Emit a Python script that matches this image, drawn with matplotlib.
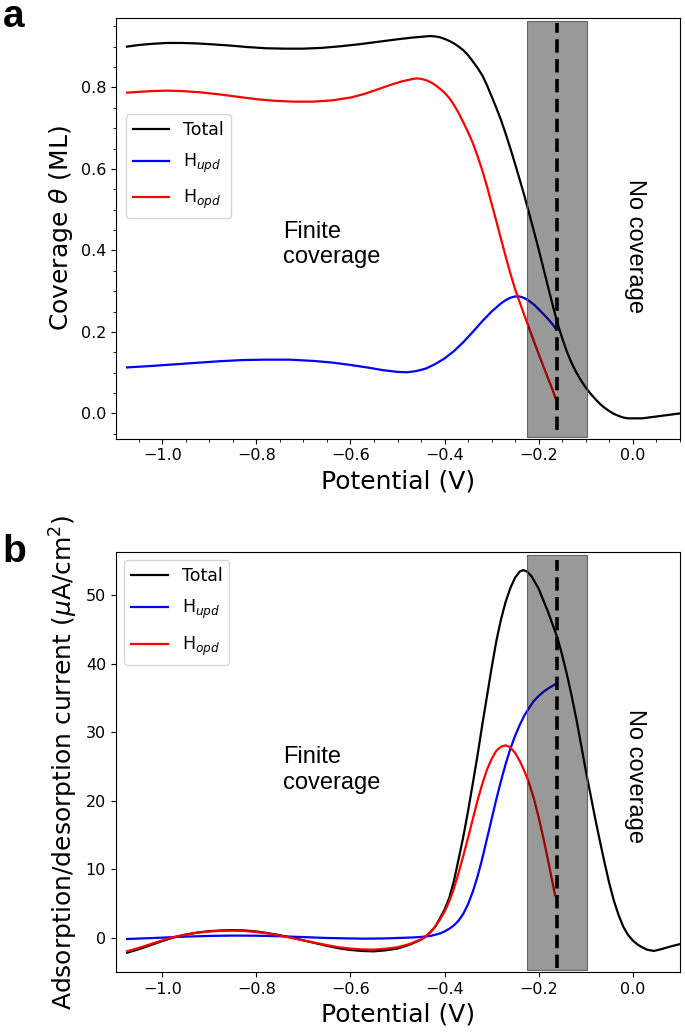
import matplotlib
matplotlib.use("Agg")
import matplotlib.pyplot as plt
from matplotlib.ticker import MultipleLocator

# ---------------- Panel a: coverage ----------------
a_total_x = [-1.075, -1.05, -1.02, -0.99, -0.96, -0.93, -0.90, -0.86, -0.82, -0.78, -0.74, -0.70,
             -0.66, -0.62, -0.58, -0.54, -0.50, -0.47, -0.45, -0.43, -0.42, -0.41, -0.40, -0.39,
             -0.38, -0.37, -0.36, -0.35, -0.34, -0.33, -0.32, -0.31, -0.30, -0.29, -0.28, -0.27,
             -0.26, -0.25, -0.24, -0.23, -0.22, -0.21, -0.20, -0.19, -0.18, -0.17, -0.16, -0.15,
             -0.14, -0.13, -0.12, -0.11, -0.10, -0.09, -0.08, -0.07, -0.06, -0.05, -0.04, -0.03,
             -0.02, -0.01, 0.00, 0.02, 0.04, 0.06, 0.08, 0.10]
a_total_y = [0.900, 0.904, 0.907, 0.909, 0.909, 0.908, 0.906, 0.903, 0.899, 0.896, 0.895, 0.895,
             0.897, 0.901, 0.906, 0.912, 0.918, 0.922, 0.924, 0.926, 0.925, 0.923, 0.919, 0.914,
             0.908, 0.900, 0.891, 0.879, 0.864, 0.848, 0.830, 0.806, 0.778, 0.750, 0.720, 0.686,
             0.650, 0.612, 0.573, 0.533, 0.490, 0.447, 0.403, 0.357, 0.311, 0.265, 0.222, 0.185,
             0.152, 0.124, 0.101, 0.081, 0.064, 0.049, 0.036, 0.024, 0.014, 0.006, -0.001, -0.006,
             -0.010, -0.012, -0.012, -0.012, -0.009, -0.006, -0.003, 0.000]

a_opd_x = [-1.075, -1.05, -1.02, -0.99, -0.96, -0.92, -0.88, -0.84, -0.80, -0.76, -0.72, -0.68,
           -0.64, -0.60, -0.57, -0.54, -0.51, -0.49, -0.47, -0.46, -0.45, -0.44, -0.43, -0.42,
           -0.41, -0.40, -0.39, -0.38, -0.37, -0.36, -0.35, -0.34, -0.33, -0.32, -0.31, -0.30,
           -0.29, -0.28, -0.27, -0.26, -0.25, -0.24, -0.23, -0.22, -0.21, -0.20, -0.19, -0.18,
           -0.17, -0.163]
a_opd_y = [0.787, 0.789, 0.791, 0.792, 0.791, 0.788, 0.783, 0.777, 0.771, 0.767, 0.765, 0.765,
           0.768, 0.775, 0.784, 0.796, 0.808, 0.815, 0.820, 0.822, 0.821, 0.818, 0.813, 0.806,
           0.797, 0.787, 0.774, 0.757, 0.737, 0.714, 0.690, 0.664, 0.632, 0.597, 0.558, 0.515,
           0.472, 0.428, 0.385, 0.343, 0.305, 0.272, 0.240, 0.208, 0.177, 0.146, 0.116, 0.086,
           0.057, 0.034]

a_upd_x = [-1.075, -1.03, -0.98, -0.93, -0.88, -0.83, -0.78, -0.73, -0.68, -0.64, -0.60, -0.56,
           -0.53, -0.50, -0.48, -0.46, -0.44, -0.42, -0.40, -0.38, -0.36, -0.34, -0.32, -0.30,
           -0.28, -0.27, -0.26, -0.25, -0.24, -0.23, -0.22, -0.21, -0.20, -0.19, -0.18, -0.17,
           -0.163]
a_upd_y = [0.113, 0.116, 0.120, 0.124, 0.128, 0.131, 0.132, 0.132, 0.129, 0.125, 0.119, 0.112,
           0.106, 0.102, 0.101, 0.104, 0.110, 0.121, 0.135, 0.153, 0.175, 0.200, 0.226, 0.250,
           0.270, 0.278, 0.284, 0.287, 0.287, 0.283, 0.276, 0.267, 0.256, 0.244, 0.232, 0.218,
           0.207]

# ---------------- Panel b: current ----------------
b_total_x = [-1.075, -1.05, -1.025, -1.0, -0.975, -0.95, -0.925, -0.90, -0.875, -0.85, -0.825, -0.80,
             -0.775, -0.75, -0.725, -0.70, -0.675, -0.65, -0.625, -0.60, -0.575, -0.55, -0.525, -0.50,
             -0.475, -0.45, -0.44, -0.43, -0.42, -0.41, -0.40, -0.39, -0.38, -0.37, -0.36, -0.35,
             -0.34, -0.33, -0.32, -0.31, -0.30, -0.29, -0.28, -0.27, -0.26, -0.25, -0.24, -0.233,
             -0.225, -0.215, -0.205, -0.20, -0.19, -0.18, -0.17, -0.16, -0.15, -0.14, -0.13, -0.12,
             -0.11, -0.10, -0.09, -0.08, -0.07, -0.06, -0.05, -0.04, -0.03, -0.02, -0.01, 0.00,
             0.01, 0.02, 0.03, 0.045, 0.06, 0.08, 0.10]
b_total_y = [-2.2, -1.7, -1.1, -0.5, 0.05, 0.45, 0.75, 0.95, 1.05, 1.1, 1.05, 0.9,
             0.65, 0.35, 0.0, -0.4, -0.8, -1.2, -1.55, -1.8, -1.95, -2.0, -1.85, -1.6,
             -1.05, -0.3, 0.15, 0.8, 1.6, 2.8, 4.1, 5.8, 8.3, 11.5, 14.8, 18.5,
             22.5, 26.6, 31.0, 35.2, 39.4, 43.3, 46.5, 49.1, 51.1, 52.6, 53.5, 53.7,
             53.5, 52.8, 51.6, 51.0, 49.3, 47.6, 45.7, 43.8, 41.3, 38.5, 35.4, 32.0,
             28.3, 24.5, 21.0, 17.5, 14.2, 11.0, 8.0, 5.4, 3.3, 1.6, 0.4, -0.4,
             -1.0, -1.4, -1.75, -1.95, -1.7, -1.3, -0.95]

b_opd_x = [-1.075, -1.05, -1.025, -1.0, -0.975, -0.95, -0.925, -0.90, -0.875, -0.85, -0.825, -0.80,
           -0.775, -0.75, -0.725, -0.70, -0.675, -0.65, -0.625, -0.60, -0.575, -0.55, -0.525, -0.50,
           -0.475, -0.45, -0.44, -0.43, -0.42, -0.41, -0.40, -0.39, -0.38, -0.37, -0.36, -0.35,
           -0.34, -0.33, -0.32, -0.31, -0.30, -0.29, -0.28, -0.27, -0.26, -0.25, -0.24, -0.23,
           -0.22, -0.21, -0.20, -0.19, -0.18, -0.17, -0.165]
b_opd_y = [-2.0, -1.5, -0.95, -0.4, 0.1, 0.45, 0.72, 0.9, 1.0, 1.02, 0.97, 0.82,
           0.6, 0.3, -0.05, -0.4, -0.75, -1.1, -1.4, -1.6, -1.72, -1.75, -1.62, -1.4,
           -0.95, -0.25, 0.15, 0.8, 1.6, 2.6, 3.8, 5.3, 7.2, 9.5, 12.0, 14.6,
           17.3, 20.0, 22.4, 24.5, 26.1, 27.3, 27.9, 28.1, 27.8, 27.0, 25.8, 24.3,
           22.5, 20.3, 17.6, 14.6, 11.3, 7.9, 6.2]

b_upd_x = [-1.075, -1.0, -0.95, -0.90, -0.85, -0.80, -0.75, -0.70, -0.65, -0.60, -0.57, -0.53,
           -0.50, -0.47, -0.45, -0.43, -0.41, -0.40, -0.39, -0.38, -0.37, -0.36, -0.35, -0.34,
           -0.33, -0.32, -0.31, -0.30, -0.29, -0.28, -0.27, -0.26, -0.25, -0.24, -0.23, -0.22,
           -0.21, -0.20, -0.19, -0.18, -0.17, -0.165]
b_upd_y = [-0.2, 0.0, 0.15, 0.25, 0.3, 0.28, 0.2, 0.08, -0.05, -0.12, -0.15, -0.12,
           -0.05, 0.02, 0.1, 0.25, 0.6, 0.9, 1.3, 1.8, 2.5, 3.5, 4.9, 6.7,
           8.9, 11.5, 14.4, 17.3, 20.2, 22.9, 25.4, 27.6, 29.5, 31.1, 32.5, 33.6,
           34.6, 35.3, 35.9, 36.4, 36.8, 37.0]

series_labels = ["Total", r"H$_{upd}$", r"H$_{opd}$"]
series_colors = ["black", "blue", "red"]

band_x = (-0.225, -0.097)
cutoff_x = -0.16

fig = plt.figure(figsize=(6.85, 10.34), dpi=100)
ax_a = fig.add_axes([0.169, 0.5757, 0.824, 0.4072])
ax_b = fig.add_axes([0.169, 0.0597, 0.824, 0.4068])

def decorate(ax, xs, ys, ylabel, xlim, ylim, legend_kw, vline_span, text_y_finite, text_y_no):
    for x, y, lab, col in zip(xs, ys, series_labels, series_colors):
        ax.plot(x, y, color=col, lw=1.6, label=lab, zorder=2)
    ax.axvspan(band_x[0], band_x[1], ymin=0.005, ymax=0.993,
               facecolor=(0, 0, 0, 0.4), edgecolor=(0.35, 0.35, 0.35, 0.9), lw=0.8, zorder=3)
    ax.axvline(cutoff_x, ymin=vline_span[0], ymax=vline_span[1], color="black", lw=2.6,
               ls="--", dashes=(3.7, 1.8), zorder=4)
    ax.set_xlim(*xlim)
    ax.set_ylim(*ylim)
    ax.set_xlabel("Potential (V)", fontsize=18)
    ax.set_ylabel(ylabel, fontsize=18)
    ax.tick_params(labelsize=11.5)
    ax.text(-0.744, text_y_finite, "Finite\ncoverage", fontsize=17, family="Liberation Sans",
            ha="left", va="center", zorder=5)
    ax.text(0.005, text_y_no, "No coverage", fontsize=17, family="Liberation Sans",
            rotation=-90, ha="center", va="center", zorder=5)
    leg = ax.legend(fontsize=12.5, labelspacing=0.75, handlelength=2.1, **legend_kw)
    leg.set_zorder(6)

decorate(ax_a, [a_total_x, a_upd_x, a_opd_x], [a_total_y, a_upd_y, a_opd_y],
         r"Coverage $\theta$ (ML)", (-1.099, 0.101), (-0.062, 0.971),
         dict(loc="upper left", bbox_to_anchor=(0.018, 0.771), borderaxespad=0.0),
         (0.02, 0.987), 0.415, 0.41)
ax_a.yaxis.set_major_locator(MultipleLocator(0.2))
ax_a.yaxis.set_minor_locator(MultipleLocator(0.05))
ax_a.xaxis.set_major_locator(MultipleLocator(0.2))
ax_a.xaxis.set_minor_locator(MultipleLocator(0.05))

decorate(ax_b, [b_total_x, b_upd_x, b_opd_x], [b_total_y, b_upd_y, b_opd_y],
         r"Adsorption/desorption current ($\mu$A/cm$^2$)", (-1.099, 0.101), (-5.06, 56.4),
         dict(loc="upper left"),
         (0.011, 0.98), 24.5, 23.6)
ax_b.xaxis.set_major_locator(MultipleLocator(0.2))
ax_b.yaxis.set_major_locator(MultipleLocator(10))

fig.text(0.004, 1 - 27 / 1034, "a", fontsize=28, fontweight="bold", family="Liberation Sans",
         ha="left", va="baseline")
fig.text(0.004, 1 - 562 / 1034, "b", fontsize=28, fontweight="bold", family="Liberation Sans",
         ha="left", va="baseline")

fig.savefig("out.png", dpi=100)
